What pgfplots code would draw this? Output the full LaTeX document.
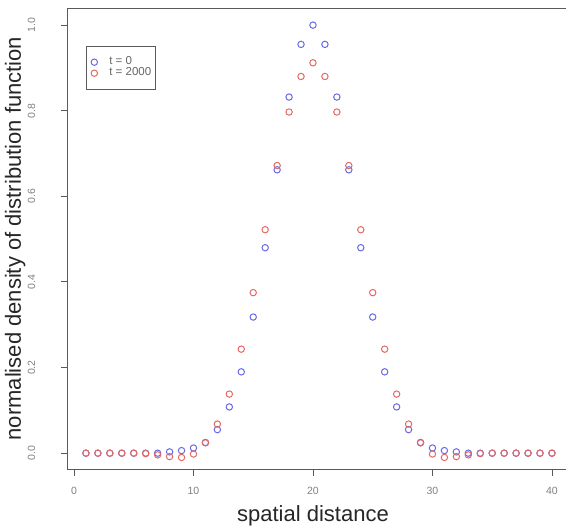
\documentclass[border=0pt]{standalone}
\usepackage{fontspec}
\setmainfont{Liberation Sans}
\usepackage{pgfplots}
\pgfplotsset{compat=1.18}
\definecolor{myblue}{RGB}{105,105,228}
\definecolor{myred}{RGB}{228,105,100}
\definecolor{axgray}{RGB}{90,90,90}
\begin{document}
\begin{tikzpicture}[x=1pt,y=1pt]
\begin{axis}[
  scale only axis, width=503.3pt, height=461pt,
  xmin=-0.56, xmax=41.56, ymin=-0.037, ymax=1.040,
  axis line style={axgray, line width=0.9pt},
  xtick={0,10,20,30,40}, ytick={0,0.2,0.4,0.6,0.8,1.0},
  tick align=outside, major tick length=6.5pt,
  xtick pos=bottom, ytick pos=left,
  tick style={axgray, line width=0.9pt},
  /pgf/number format/assume math mode=true,
  ticklabel style={font=\fontsize{10.5}{12}\selectfont, text=black!50},
  yticklabel style={rotate=90, anchor=south, /pgf/number format/.cd, fixed, fixed zerofill, precision=1},
  yticklabel shift=22pt,
  xticklabel style={/pgf/number format/.cd, fixed, precision=0},
  xticklabel shift=8pt,
  xlabel={spatial distance},
  ylabel={normalised density of distribution function},
  label style={font=\fontsize{22}{24}\selectfont, text=black!85},
  xlabel style={at={(axis cs:20,-0.037)}, anchor=south, yshift=-61pt},
  ylabel style={at={(axis description cs:0,0.5)}, anchor=north, yshift=66pt},
  legend style={at={(axis description cs:0.037,0.918)}, anchor=north west,
    draw=axgray, line width=0.8pt, font=\fontsize{11.5}{12}\selectfont,
    inner xsep=0pt, inner ysep=10.5pt, row sep=0pt,
    nodes={text=black!60, inner ysep=0pt, inner xsep=0pt, text height=8pt, text depth=3pt}},
  legend cell align=left,
  legend image code/.code={\path[draw=none,fill=none] (-8pt,0pt) -- (15pt,0pt); \draw[#1] plot coordinates {(0pt,0pt)};},
]
\addplot[only marks, mark=o, mark size=3.2pt, draw=myblue, mark options={line width=1pt}] coordinates {
(1,0)(2,0)(3,0)(4,0)(5,0)(6,0)(7,0)(8,0.003)(9,0.006)(10,0.012)
(11,0.025)(12,0.055)(13,0.108)(14,0.19)(15,0.318)(16,0.48)(17,0.662)(18,0.832)(19,0.955)(20,1.0)
(21,0.955)(22,0.832)(23,0.662)(24,0.48)(25,0.318)(26,0.19)(27,0.108)(28,0.055)(29,0.025)(30,0.012)
(31,0.006)(32,0.003)(33,0)(34,0)(35,0)(36,0)(37,0)(38,0)(39,0)(40,0)};
\addlegendentry{t = 0}
\addplot[only marks, mark=o, mark size=3.2pt, draw=myred, mark options={line width=1pt}] coordinates {
(1,0)(2,0)(3,0)(4,0)(5,0)(6,-0.001)(7,-0.004)(8,-0.008)(9,-0.010)(10,-0.002)
(11,0.024)(12,0.068)(13,0.138)(14,0.243)(15,0.375)(16,0.522)(17,0.672)(18,0.797)(19,0.88)(20,0.912)
(21,0.88)(22,0.797)(23,0.672)(24,0.522)(25,0.375)(26,0.243)(27,0.138)(28,0.068)(29,0.024)(30,-0.002)
(31,-0.010)(32,-0.008)(33,-0.004)(34,-0.001)(35,0)(36,0)(37,0)(38,0)(39,0)(40,0)};
\addlegendentry{t = 2000\rule{4pt}{0pt}}
\end{axis}
\pgfresetboundingbox
\useasboundingbox (-67.3,-59) rectangle (498.7,469);
\end{tikzpicture}
\end{document}
